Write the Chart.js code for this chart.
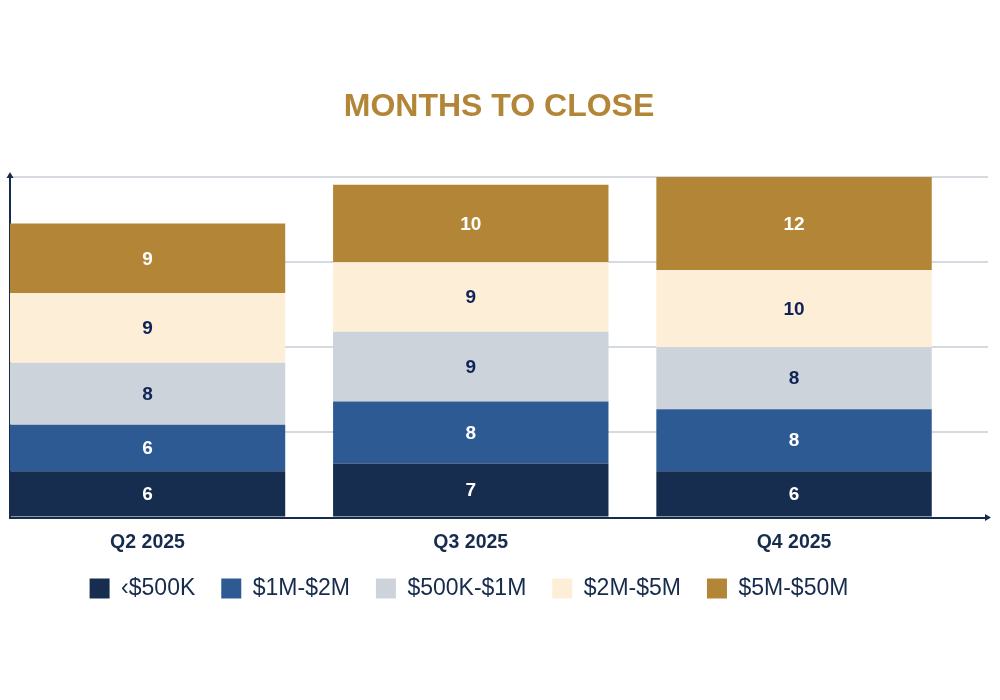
<!DOCTYPE html>
<html>
<head>
<meta charset="utf-8">
<script src="https://cdn.jsdelivr.net/npm/chart.js@4.4.1/dist/chart.umd.min.js"></script>
<style>
  html, body { margin: 0; padding: 0; background: #fff; }
  #wrap { position: relative; width: 1000px; height: 700px; }
</style>
</head>
<body>
<div id="wrap"><canvas id="chartMeses"></canvas></div>
<script>
// Dados do gráfico
const quarters = ['Q2 2025', 'Q3 2025', 'Q4 2025'];
const seriesNames = ['‹$500K', '$1M-$2M', '$500K-$1M', '$2M-$5M', '$5M-$50M'];
const under500k = [6, 7, 6];
const oneToTwoM = [6, 8, 8];
const halfToOneM = [8, 9, 8];
const twoToFiveM = [9, 9, 10];
const fiveToFiftyM = [9, 10, 12];
const yTicks = [0, 11, 22, 33, 44];

const seriesValues = [under500k, oneToTwoM, halfToOneM, twoToFiveM, fiveToFiftyM];
const seriesColors = ['#172d4f', '#2e5a94', '#cdd3da', '#fdeed8', '#b38637'];
const labelColors = ['#ffffff', '#ffffff', '#0f2357', '#0f2357', '#ffffff'];

const NAVY = '#172b4d';
const GOLD = '#b38637';
const GRID = '#d5d9e0';

// rótulos de valor no centro de cada segmento
const valueLabels = {
  id: 'valueLabels',
  afterDatasetsDraw(chart) {
    const { ctx } = chart;
    ctx.save();
    ctx.font = 'bold 19px "Liberation Sans", Arial, sans-serif';
    ctx.textAlign = 'center';
    ctx.textBaseline = 'middle';
    chart.data.datasets.forEach((ds, i) => {
      const meta = chart.getDatasetMeta(i);
      meta.data.forEach((bar, j) => {
        ctx.fillStyle = labelColors[i];
        ctx.fillText(String(ds.data[j].y), bar.x, (bar.y + bar.base) / 2 + 1);
      });
    });
    ctx.restore();
  },
};

// setas nas pontas dos eixos
const axisArrows = {
  id: 'axisArrows',
  afterDraw(chart) {
    const { ctx, chartArea } = chart;
    ctx.save();
    ctx.fillStyle = NAVY;
    ctx.strokeStyle = NAVY;
    ctx.lineWidth = 2;
    // eixo y
    ctx.beginPath();
    ctx.moveTo(chartArea.left, chartArea.top);
    ctx.lineTo(chartArea.left, chartArea.top - 2);
    ctx.stroke();
    ctx.beginPath();
    ctx.moveTo(chartArea.left, chartArea.top - 5);
    ctx.lineTo(chartArea.left - 3.5, chartArea.top + 1);
    ctx.lineTo(chartArea.left + 3.5, chartArea.top + 1);
    ctx.closePath();
    ctx.fill();
    // eixo x
    ctx.beginPath();
    ctx.moveTo(chartArea.right + 3, chartArea.bottom);
    ctx.lineTo(chartArea.right - 3, chartArea.bottom - 3.5);
    ctx.lineTo(chartArea.right - 3, chartArea.bottom + 3.5);
    ctx.closePath();
    ctx.fill();
    ctx.restore();
  },
};

// legenda deslocada, como no original
const legendShift = {
  id: 'legendShift',
  afterLayout(chart) {
    const lg = chart.legend;
    if (!lg) return;
    lg.left -= 30;
    lg.right -= 30;
    lg.top -= 16;
    lg.bottom -= 16;
  },
};

const ctx = document.getElementById('chartMeses').getContext('2d');
new Chart(ctx, {
  type: 'bar',
  data: {
    datasets: seriesNames.map((name, i) => ({
      label: name,
      data: quarters.map((q, j) => ({ x: j, y: seriesValues[i][j] })),
      backgroundColor: seriesColors[i],
      borderWidth: 0,
      barPercentage: 0.852,
      categoryPercentage: 1,
    })),
  },
  options: {
    responsive: true,
    maintainAspectRatio: false,
    animation: false,
    layout: { padding: { left: 10, right: 12, top: 0, bottom: 74 } },
    plugins: {
      title: {
        display: true,
        text: 'MONTHS TO CLOSE',
        color: GOLD,
        font: { family: '"Liberation Sans", Arial, sans-serif', size: 32, weight: 'bold' },
        padding: { top: 88, bottom: 50.6 },
      },
      legend: {
        position: 'bottom',
        labels: {
          boxWidth: 20,
          boxHeight: 20,
          padding: 26,
          color: NAVY,
          font: { family: '"Liberation Sans", Arial, sans-serif', size: 23 },
        },
      },
      tooltip: { enabled: false },
    },
    scales: {
      x: {
        type: 'linear',
        stacked: true,
        offset: false,
        min: -0.4254,
        max: 2.6,
        grid: { drawOnChartArea: false, drawTicks: false, offset: false },
        border: { color: NAVY, width: 2 },
        ticks: {
          stepSize: 1,
          includeBounds: false,
          padding: 13,
          color: NAVY,
          font: { family: '"Liberation Sans", Arial, sans-serif', size: 19.5, weight: 'bold' },
          callback: (v) => quarters[v] ?? '',
        },
      },
      y: {
        stacked: true,
        min: yTicks[0],
        max: yTicks[yTicks.length - 1],
        afterBuildTicks: (axis) => { axis.ticks = yTicks.map((v) => ({ value: v })); },
        grid: {
          color: (c) => (c.tick && c.tick.value === 0 ? 'rgba(0,0,0,0)' : GRID),
          lineWidth: 2,
          drawTicks: false,
        },
        border: { color: NAVY, width: 2 },
        ticks: { display: false },
      },
    },
  },
  plugins: [valueLabels, axisArrows, legendShift],
});
</script>
</body>
</html>
